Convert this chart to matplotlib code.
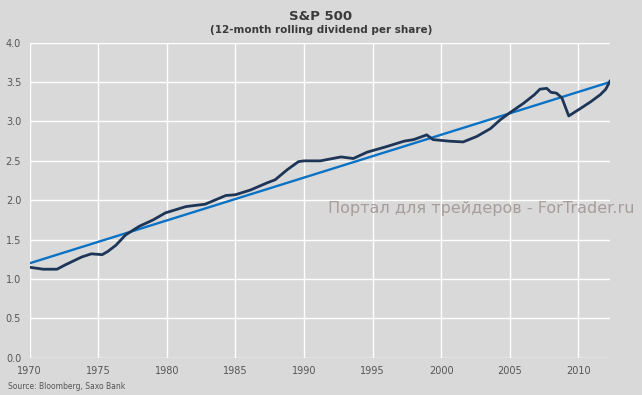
import matplotlib.pyplot as plt

# 12-month rolling dividend per share
years = [1970.0, 1971.0, 1972.0, 1972.6, 1973.8, 1974.5, 1975.3, 1975.7, 1976.3,
         1977.0, 1978.0, 1979.0, 1979.9, 1981.4, 1982.8, 1984.3, 1985.0, 1986.1,
         1987.3, 1987.9, 1988.8, 1989.6, 1990.0, 1991.2, 1992.7, 1993.6, 1994.6,
         1996.0, 1997.3, 1998.0, 1998.95, 1999.4, 2000.6, 2001.6, 2002.6, 2003.6,
         2004.3, 2005.0, 2006.0, 2006.8, 2007.2, 2007.7, 2008.0, 2008.4, 2008.8,
         2009.3, 2010.2, 2010.9, 2011.6, 2012.0, 2012.3]
dividend = [1.15, 1.125, 1.125, 1.18, 1.28, 1.32, 1.31, 1.35, 1.43,
            1.56, 1.67, 1.75, 1.84, 1.92, 1.95, 2.06, 2.07, 2.13,
            2.22, 2.26, 2.39, 2.49, 2.50, 2.50, 2.55, 2.53, 2.61,
            2.68, 2.75, 2.77, 2.83, 2.77, 2.75, 2.74, 2.81, 2.91,
            3.02, 3.11, 3.23, 3.34, 3.41, 3.42, 3.37, 3.36, 3.30,
            3.07, 3.17, 3.25, 3.34, 3.41, 3.51]

# linear trend
trend_x = [1970.0, 2012.3]
trend_y = [1.2, 3.5]

xticks = [1970, 1975, 1980, 1985, 1990, 1995, 2000, 2005, 2010]
yticks = [0.0, 0.5, 1.0, 1.5, 2.0, 2.5, 3.0, 3.5, 4.0]

bg = "#d9d9d9"
fig = plt.figure(figsize=(6.42, 3.95), dpi=100, facecolor=bg)
ax = fig.add_axes([0.046, 0.094, 0.904, 0.798], facecolor=bg)

ax.plot(trend_x, trend_y, color="#0a72c4", linewidth=1.7, zorder=3)
ax.plot(years, dividend, color="#1d3557", linewidth=2.0, zorder=4)

ax.set_xlim(1970, 2012.3)
ax.set_ylim(0, 4.0)
ax.set_xticks(xticks)
ax.set_yticks(yticks)
ax.set_yticklabels([f"{v:.1f}" for v in yticks])
ax.grid(True, color="white", linewidth=1.0)
ax.set_axisbelow(True)
for s in ax.spines.values():
    s.set_visible(False)
ax.tick_params(length=0, labelsize=7, colors="#555555", pad=6)

fig.text(0.5, 0.957, "S&P 500", ha="center", va="center", fontsize=9.5,
         fontweight="bold", color="#3a3a3a")
fig.text(0.5, 0.925, "(12-month rolling dividend per share)", ha="center",
         va="center", fontsize=7.5, fontweight="bold", color="#3a3a3a")
fig.text(0.012, 0.022, "Source: Bloomberg, Saxo Bank", ha="left", va="center",
         fontsize=5.5, color="#555555")
fig.text(0.989, 0.473, "Портал для трейдеров - ForTrader.ru", ha="right",
         va="center", fontsize=11.5, color="#a89c9c")

fig.savefig("out.png", dpi=100, facecolor=bg)
